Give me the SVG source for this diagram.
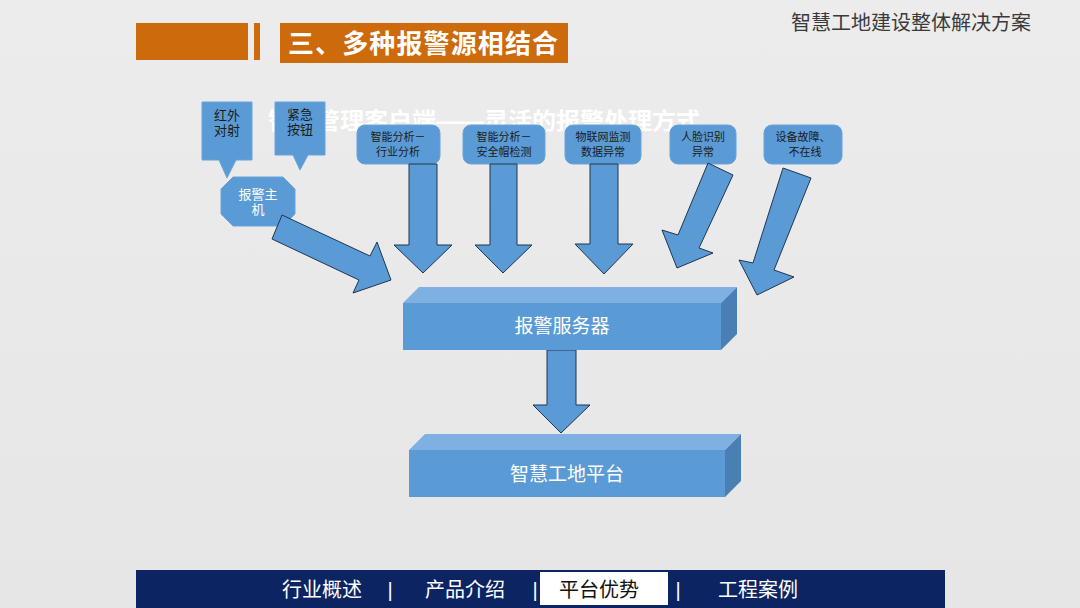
<svg xmlns="http://www.w3.org/2000/svg" width="1080" height="608" viewBox="0 0 1080 608">
<defs>
<style>
.cjk{font-family:"Liberation Sans","Noto Sans CJK SC",sans-serif;}
.box{fill:#5b9bd5;stroke:#6aa3d8;stroke-width:1;}
.arr{fill:#5b9bd5;stroke:#1f3550;stroke-width:1;stroke-linejoin:miter;}
.lbl{font-size:11px;fill:#1a1a1a;text-anchor:middle;}
.call{font-size:13px;fill:#1a1a1a;text-anchor:middle;}
.front{fill:#5b9bd5;}
.top{fill:#7eb1e2;}
.side{fill:#4a7fb5;}
.big{font-size:19px;fill:#ffffff;text-anchor:middle;}
.nav{font-size:20px;fill:#ffffff;text-anchor:middle;}
</style>
<linearGradient id="bg" x1="0" y1="0" x2="0" y2="1">
<stop offset="0" stop-color="#ececec"/>
<stop offset="1" stop-color="#e6e6e6"/>
</linearGradient>
</defs>
<rect x="0" y="0" width="1080" height="608" fill="url(#bg)"/>

<g id="header">
<rect x="136" y="23" width="112" height="37" fill="#cc6a0c"/>
<rect x="254" y="23" width="6" height="37" fill="#cc6a0c"/>
<rect x="280" y="23" width="288" height="40" fill="#cc6a0c"/>
<text x="288" y="53" class="cjk" font-size="26" font-weight="bold" fill="#ffffff" textLength="270">三、多种报警源相结合</text>
<text x="1031" y="30" class="cjk" font-size="20" fill="#3a3a3a" text-anchor="end">智慧工地建设整体解决方案</text>
</g>

<g id="subtitle">
<text x="268" y="129" class="cjk" font-size="23" font-weight="bold" fill="#ffffff" textLength="432" lengthAdjust="spacingAndGlyphs">智能管理客户端——灵活的报警处理方式</text>
</g>

<g id="node-infrared">
<path class="box" d="M202,102 H252 V160 H236 L227,178 L219,160 H202 Z"/>
<text class="cjk call" x="227" y="120">红外</text>
<text class="cjk call" x="227" y="135">对射</text>
</g>
<g id="node-emergency">
<path class="box" d="M275,102 H325 V155 H308 L300,170 L293,155 H275 Z"/>
<text class="cjk call" x="300" y="119">紧急</text>
<text class="cjk call" x="300" y="134">按钮</text>
</g>
<g id="node-alarmhost">
<polygon class="box" points="233,177 283,177 295,189 295,214 283,226 233,226 221,214 221,189"/>
<text class="cjk" x="258" y="199" font-size="13" fill="#ffffff" text-anchor="middle">报警主</text>
<text class="cjk" x="258" y="214" font-size="13" fill="#ffffff" text-anchor="middle">机</text>
</g>

<g id="node-src1">
<rect class="box" x="357" y="125" width="83" height="39" rx="8"/>
<text class="cjk lbl" x="398" y="141">智能分析－</text>
<text class="cjk lbl" x="398" y="156">行业分析</text>
</g>
<g id="node-src2">
<rect class="box" x="463" y="125" width="82" height="39" rx="8"/>
<text class="cjk lbl" x="504" y="141">智能分析－</text>
<text class="cjk lbl" x="504" y="156">安全帽检测</text>
</g>
<g id="node-src3">
<rect class="box" x="565" y="125" width="76" height="39" rx="8"/>
<text class="cjk lbl" x="603" y="141">物联网监测</text>
<text class="cjk lbl" x="603" y="156">数据异常</text>
</g>
<g id="node-src4">
<rect class="box" x="670" y="125" width="66" height="39" rx="8"/>
<text class="cjk lbl" x="703" y="141">人脸识别</text>
<text class="cjk lbl" x="703" y="156">异常</text>
</g>
<g id="node-src5">
<rect class="box" x="764" y="125" width="78" height="39" rx="8"/>
<text class="cjk lbl" x="803" y="141">设备故障、</text>
<text class="cjk lbl" x="805" y="156">不在线</text>
</g>

<g id="connectors">
<polygon class="arr" points="282,215 370,256 377,242 391,280 353,293 359,280 272,239"/>
<polygon class="arr" points="409,164 437,164 437,245 452,245 423,273 394,245 409,245"/>
<polygon class="arr" points="490,164 517,164 517,245 532,245 503,273 475,245 490,245"/>
<polygon class="arr" points="590,164 618,164 618,244 633,244 604,274 575,244 590,244"/>
<polygon class="arr" points="708,163 733,175 699,248 713,253 677,268 662,230 678,235"/>
<polygon class="arr" points="783,168 811,178 774,270 794,277 757,295 739,260 753,263"/>
<polygon class="arr" points="547,350 576,350 576,405 590,405 561,433 533,405 547,405"/>
</g>

<g id="node-server">
<polygon class="top" points="403,303 419,287 737,287 721,303"/>
<polygon class="side" points="721,303 737,287 737,334 721,350"/>
<rect class="front" x="403" y="303" width="318" height="47"/>
<text class="cjk big" x="562" y="333">报警服务器</text>
</g>

<g id="node-platform">
<polygon class="top" points="409,450 425,434 741,434 725,450"/>
<polygon class="side" points="725,450 741,434 741,481 725,497"/>
<rect class="front" x="409" y="450" width="316" height="47"/>
<text class="cjk big" x="567" y="481">智慧工地平台</text>
</g>

<g id="footer">
<rect x="136" y="570" width="809" height="38" fill="#0c2461"/>
<rect x="540" y="572" width="128" height="33" fill="#ffffff"/>
<text class="cjk nav" x="322" y="597">行业概述</text>
<text class="cjk nav" x="390" y="597">|</text>
<text class="cjk nav" x="465" y="597">产品介绍</text>
<text class="cjk nav" x="535" y="597">|</text>
<text class="cjk nav" x="599" y="597" style="fill:#111111">平台优势</text>
<text class="cjk nav" x="678" y="597">|</text>
<text class="cjk nav" x="758" y="597">工程案例</text>
</g>
</svg>
